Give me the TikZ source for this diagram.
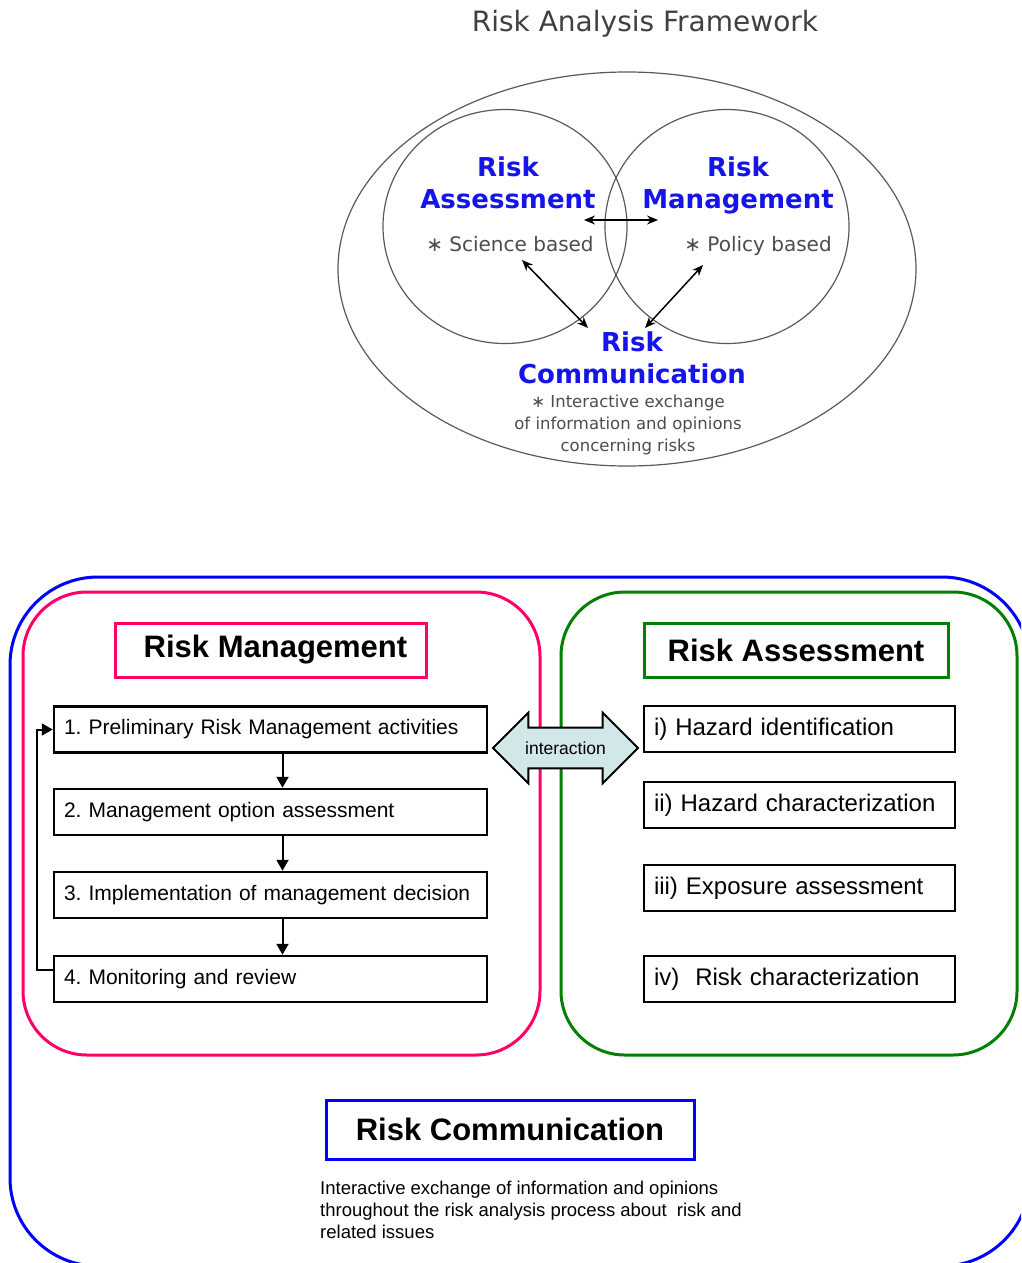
\documentclass[tikz,border=0pt]{standalone}
\usepackage{fontspec}
\setmainfont{Liberation Sans}
\newfontfamily\verd{DejaVu Sans}
\usetikzlibrary{arrows.meta,shapes.arrows,positioning}
\definecolor{vennblue}{RGB}{20,20,235}
\definecolor{rmpink}{RGB}{255,0,102}
\definecolor{ragreen}{RGB}{0,128,0}
\definecolor{rcblue}{RGB}{0,0,255}
\definecolor{interfill}{RGB}{210,232,232}
\frenchspacing

\begin{document}
\begin{tikzpicture}[x=1pt, y=-1pt,
    venn/.style={draw=black!65, line width=1.2},
    vennhead/.style={font=\verd\bfseries\fontsize{26}{32}\selectfont, text=vennblue, align=center},
    venntext/.style={font=\verd\fontsize{20}{22}\selectfont, text=black!70},
    vennsmall/.style={font=\verd\fontsize{16.5}{22}\selectfont, text=black!70, align=center},
    vennarrow/.style={{Stealth[length=11pt,width=9pt]}-{Stealth[length=11pt,width=9pt]}, line width=1.5},
    panel/.style={rounded corners=64, line width=3},
    headbox/.style={draw, line width=3, minimum width=311, minimum height=54, font=\bfseries\fontsize{31}{36}\selectfont},
    rmstep/.style={draw, line width=2.5, minimum height=46, text width=413, inner xsep=10, align=left, font=\fontsize{21}{24}\selectfont},
    rastep/.style={draw, line width=2, minimum height=46, text width=291, inner xsep=10, align=left, font=\fontsize{24}{26}\selectfont},
    flow/.style={-{Triangle[length=11pt,width=12pt]}, line width=2}
  ]
  \useasboundingbox (0,0) rectangle (1021,1263);
  \clip (0,0) rectangle (1021,1263);

  \node[font=\verd\fontsize{28}{30}\selectfont, text=black!75] (title) at (645,24) {Risk Analysis Framework};

  \draw[venn] (627,269) ellipse [x radius=289, y radius=197];
  \draw[venn] (505,226.5) ellipse [x radius=122, y radius=117];
  \draw[venn] (727,226.5) ellipse [x radius=122, y radius=117];

  \node[vennhead] (ra) at (508,183) {Risk\\Assessment};
  \node[vennhead] (rm) at (738,185) {Risk\\Management};
  \node[venntext] (sci) at (510,244) {∗ Science based};
  \node[venntext] (pol) at (758,246) {∗ Policy based};
  \node[vennhead] (rc) at (632,358) {Risk\\Communication};
  \node[vennsmall] (rcnote) at (628,425) {∗ Interactive exchange\\of information and opinions\\concerning risks};

  \coordinate (aml) at (584,220);
  \coordinate (amr) at (658,220);
  \coordinate (scl) at (522,260);
  \coordinate (rcl) at (588,328);
  \coordinate (pol2) at (703,265);
  \coordinate (rcr) at (645,328);
  \draw[vennarrow] (aml) -- (amr);
  \draw[vennarrow] (scl) -- (rcl);
  \draw[vennarrow] (pol2) -- (rcr);

  \draw[rcblue, rounded corners=88, line width=3] (10,577) rectangle (1030,1266);
  \draw[rmpink, panel] (23,592) rectangle (540,1055);
  \draw[ragreen, panel] (561,592) rectangle (1017,1055);

  \node[headbox, draw=rmpink] (rmhead) at (270.5,650) {\hspace*{10pt}Risk Management};
  \node[headbox, draw=ragreen, minimum width=304] (rahead) at (796,650) {Risk Assessment};

  \node[rmstep] (step1) at (270.5,729.5) {1. Preliminary Risk Management activities};
  \node[rmstep, below=34pt of step1] (step2) {2. Management option assessment};
  \node[rmstep, below=34.5pt of step2] (step3) {3. Implementation of management decision};
  \node[rmstep, below=35.5pt of step3] (step4) {4. Monitoring and review};

  \draw[flow] ([xshift=12]step1.south) -- ([xshift=12]step2.north);
  \draw[flow] ([xshift=12]step2.south) -- ([xshift=12]step3.north);
  \draw[flow] ([xshift=12]step3.south) -- ([xshift=12]step4.north);
  \draw[flow] ([yshift=9]step4.west) -| ([xshift=-16]step1.west) -- (step1.west);

  \node[rastep] (ra1) at (799.5,729) {i) Hazard identification};
  \node[rastep] (ra2) at (799.5,805) {ii) Hazard characterization};
  \node[rastep] (ra3) at (799.5,888) {iii) Exposure assessment};
  \node[rastep] (ra4) at (799.5,979) {iv)\ \ Risk characterization};

  \node[double arrow, draw=black, line width=2, fill=interfill, double arrow head extend=15,
        minimum height=145, inner xsep=2, inner ysep=13, font=\fontsize{17.5}{19}\selectfont] (inter) at (565.5,748) {interaction};

  \node[headbox, draw=rcblue, minimum width=368, minimum height=59] (rchead) at (510,1129.5) {Risk Communication};
  \node[anchor=north west, inner sep=0, align=left, font=\fontsize{18.5}{22}\selectfont] (rctext) at (320,1181)
    {Interactive exchange of information and opinions\\throughout the risk analysis process about\ \ risk and\\related issues};
\end{tikzpicture}
\end{document}
